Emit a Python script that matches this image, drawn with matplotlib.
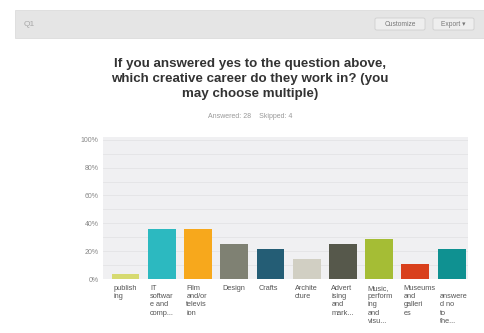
import matplotlib
matplotlib.use("Agg")
import matplotlib.pyplot as plt
from matplotlib.patches import Rectangle, FancyBboxPatch

# Survey results: share of respondents per creative career
categories = [
    "publish\ning",
    "IT\nsoftwar\ne and\ncomp...",
    "Film\nand/or\ntelevis\nion",
    "Design",
    "Crafts",
    "Archite\ncture",
    "Advert\nising\nand\nmark...",
    "Music,\nperform\ning\nand\nvisu...",
    "Museums\nand\ngalleri\nes",
    "\nanswere\nd no\nto\nthe...",
]
values = [0.036, 0.357, 0.357, 0.25, 0.214, 0.143, 0.25, 0.286, 0.107, 0.214]
colors = ["#d6da70", "#2cb9c0", "#f7a81c", "#7f8173", "#245d75",
          "#d1cfc3", "#56584b", "#a5bd35", "#d9401c", "#0f9191"]
ytick_values = [0, 0.2, 0.4, 0.6, 0.8, 1.0]
ytick_labels = ["0%", "20%", "40%", "60%", "80%", "100%"]

title = ("If you answered yes to the question above,\n"
         "which creative career do they work in? (you\n"
         "may choose multiple)")
subtitle = "Answered: 28    Skipped: 4"

W, H = 484, 333
fig = plt.figure(figsize=(W / 100, H / 100), dpi=100)
fig.patch.set_facecolor("white")
font = ["Liberation Sans", "DejaVu Sans"]


def px(x, y):
    return x / W, 1 - y / H


# Header toolbar
hx, hy = px(15, 38)
fig.patches.append(Rectangle((hx, hy), 1 - hx, 28 / H, transform=fig.transFigure,
                             facecolor="#e5e5e5", edgecolor="#d8d8d8", lw=0.5))
fig.text(*px(24, 24), "Q1", fontsize=6, color="#a8a8a8", family=font, va="center")
for (x0, x1, label) in [(375, 425, "Customize"), (433, 474, "Export \u25be")]:
    bx, by = px(x0, 30)
    fig.patches.append(FancyBboxPatch((bx, by), (x1 - x0) / W, 12 / H,
                                      boxstyle="round,pad=0,rounding_size=0.004",
                                      transform=fig.transFigure,
                                      facecolor="#eeeeee", edgecolor="#cfcfcf", lw=0.6))
    fig.text(*px((x0 + x1) / 2, 24), label, fontsize=4.8, color="#777777",
             family=font, ha="center", va="center")

# Title and response counts
fig.text(*px(250, 79), title, fontsize=9.6, fontweight="bold", color="#333333",
         family=font, ha="center", va="center", linespacing=1.36)
fig.text(*px(250, 117), subtitle, fontsize=5, color="#999999",
         family=font, ha="center", va="center")

# Bar chart
ax = fig.add_axes([103 / W, 1 - 279 / H, 365 / W, 142 / H])
ax.set_facecolor("#f0f0f2")
x = range(len(values))
ax.bar(x, values, width=0.77, color=colors, zorder=3)
ax.set_xlim(-0.62, 9.45)
ax.set_ylim(0, 1.02)
ax.set_yticks(ytick_values)
ax.set_yticks([0.1, 0.3, 0.5, 0.7, 0.9], minor=True)
ax.grid(axis="y", which="both", color="#e4e4e6", lw=0.6, zorder=0)
ax.set_yticklabels(ytick_labels, fontsize=5, color="#888888", family=font)
ax.tick_params(axis="y", which="both", length=0, pad=3)
ax.set_xticks([])
for s in ax.spines.values():
    s.set_visible(False)

for i, lab in enumerate(categories):
    ax.text(i - 0.32, -0.045, lab, fontsize=5.3, color="#555555", family=font,
            ha="left", va="top", linespacing=1.22, transform=ax.transData,
            clip_on=False)

fig.savefig("out.png", dpi=100)
